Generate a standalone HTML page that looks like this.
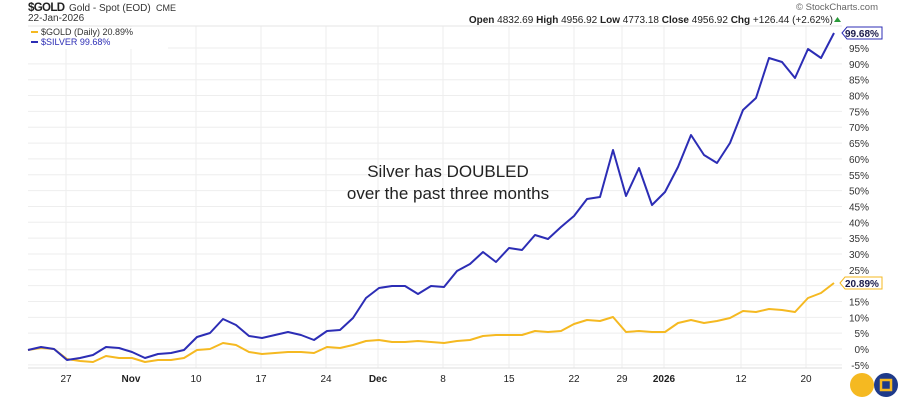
<!DOCTYPE html>
<html><head><meta charset="utf-8"><style>
body{margin:0;background:#fff;width:900px;height:400px;overflow:hidden;font-family:"Liberation Sans",sans-serif}
</style></head><body>
<svg id="s" width="900" height="400" xmlns="http://www.w3.org/2000/svg" font-family="Liberation Sans, sans-serif">
<text x="28" y="11" font-size="11.5" font-weight="bold" fill="#222" textLength="37">$GOLD</text>
<text x="69" y="11" font-size="10" fill="#333">Gold - Spot (EOD)</text>
<text x="156" y="11" font-size="9" fill="#333">CME</text>
<text x="28" y="21" font-size="10" fill="#333">22-Jan-2026</text>
<text x="837" y="10" font-size="9.5" fill="#666" text-anchor="middle">© StockCharts.com</text>
<text x="833" y="23" font-size="10" fill="#222" text-anchor="end"><tspan font-weight="bold">Open</tspan> 4832.69  <tspan font-weight="bold">High</tspan> 4956.92  <tspan font-weight="bold">Low</tspan> 4773.18  <tspan font-weight="bold">Close</tspan> 4956.92  <tspan font-weight="bold">Chg</tspan> +126.44 (+2.62%)</text>
<polygon points="834,22 841,22 837.5,17" fill="#2a9a3a"/>
<g id="grid"></g>
<line x1="28" y1="26" x2="842" y2="26" stroke="#e6e6e6"/>
<line x1="28" y1="368" x2="842" y2="368" stroke="#ddd"/>
<line x1="31" y1="32" x2="38" y2="32" stroke="#f5b921" stroke-width="2"/>
<text x="41" y="35" font-size="9" fill="#333">$GOLD (Daily) 20.89%</text>
<line x1="31" y1="42" x2="38" y2="42" stroke="#2c2db5" stroke-width="2"/>
<text x="41" y="45" font-size="9" fill="#2c2db5">$SILVER 99.68%</text>
<text x="448" y="177" font-size="17" fill="#222" text-anchor="middle">Silver has DOUBLED</text>
<text x="448" y="199" font-size="17" fill="#222" text-anchor="middle">over the past three months</text>
<polyline id="g" fill="none" stroke="#f5b921" stroke-width="2" stroke-linejoin="round"/>
<polyline id="v" fill="none" stroke="#2c2db5" stroke-width="2" stroke-linejoin="round"/>
<polygon points="842,33 847,27 882,27 882,39 847,39" fill="#fff" stroke="#2c2db5"/>
<text x="845" y="37" font-size="10" font-weight="bold" fill="#1a1a4a">99.68%</text>
<polygon points="840,283 845,277 882,277 882,289 845,289" fill="#fff" stroke="#f5b921"/>
<text x="845" y="287" font-size="10" font-weight="bold" fill="#1a1a4a">20.89%</text>
<circle cx="862" cy="385" r="12" fill="#f5b921"/>
<circle cx="886" cy="385" r="12" fill="#1e3a8a"/>
<rect x="881" y="380" width="10" height="10" fill="none" stroke="#f5b921" stroke-width="2.5"/>
</svg>
<script>
var ns="http://www.w3.org/2000/svg",gr=document.getElementById('grid'),s=document.getElementById('s');
function el(t,a,p){var e=document.createElementNS(ns,t);for(var k in a)e.setAttribute(k,a[k]);(p||gr).appendChild(e);return e;}
for(var p=-5;p<=95;p+=5){var y=349-p*3.168;el('line',{x1:28,x2:842,y1:y,y2:y,stroke:'#eee'});
if(p==20)continue;var t=el('text',{x:869,y:y+4,'font-size':10,fill:'#333','text-anchor':'end'});t.textContent=p+'%';}
var ticks=[[66,'27'],[131,'Nov',1],[196,'10'],[261,'17'],[326,'24'],[378,'Dec',1],[443,'8'],[509,'15'],[574,'22'],[622,'29'],[664,'2026',1],[741,'12'],[806,'20']];
ticks.forEach(function(k){el('line',{x1:k[0],x2:k[0],y1:26,y2:368,stroke:'#eee'});
var t=el('text',{x:k[0],y:382,'font-size':10,fill:'#222','text-anchor':'middle','font-weight':k[2]?'bold':'normal'});t.textContent=k[1];});
el('rect',{x:28,y:27,width:140,height:22,fill:'#fff'});
var sv=[350,347,349,360,358,355,347,348,352,358,354,353,350,337,333,319,325,336,338,335,332,335,340,331,330,318,298,288,286,286,294,286,287,271,264,252,262,248,250,235,239,227,216,199,197,150,196,168,205,192,167,135,155,163,143,110,98,58,62,78,49,58,33];
var gd=[350,348,349,359,361,362,356,358,358,362,360,360,358,350,349,343,345,352,354,353,352,352,353,347,348,345,341,340,342,342,341,342,343,341,340,336,335,335,335,331,332,331,324,320,321,317,332,331,332,332,323,320,323,321,318,311,312,309,310,312,298,293,283];
function pts(a){return a.map(function(y,i){return (28+i*13)+','+y}).join(' ');}
document.getElementById('v').setAttribute('points',pts(sv));
document.getElementById('g').setAttribute('points',pts(gd));
</script>
</body></html>
